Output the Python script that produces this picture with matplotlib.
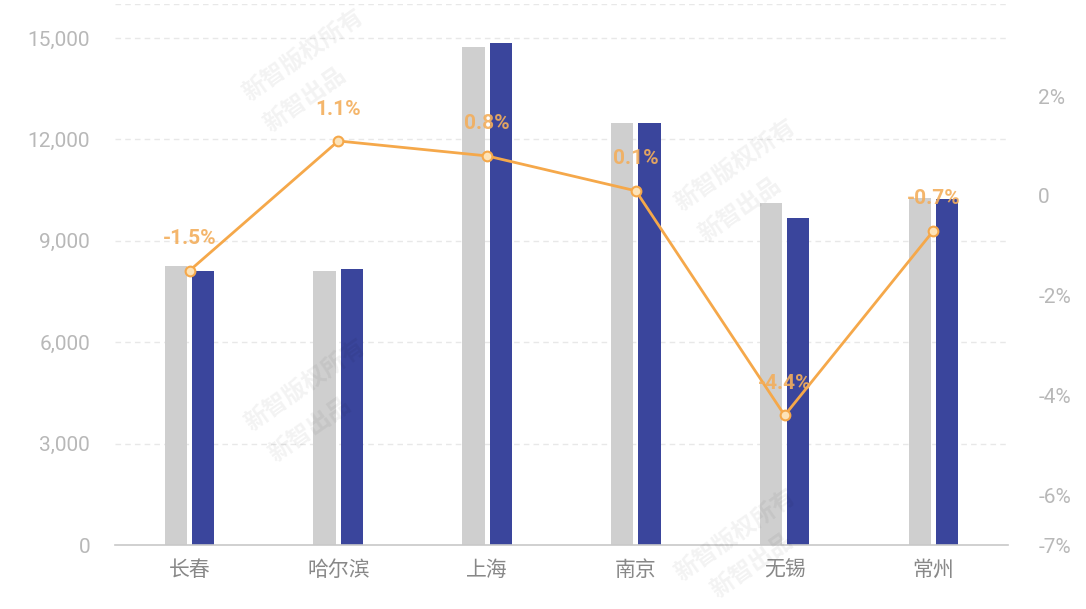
import matplotlib
matplotlib.use("Agg")
import matplotlib.pyplot as plt
import numpy as np

plt.rcParams['font.family'] = ['Roboto', 'Noto Sans CJK SC', 'DejaVu Sans']

cities = ['长春', '哈尔滨', '上海', '南京', '无锡', '常州']
prev_vals = [8250, 8100, 14730, 12500, 10120, 10270]
curr_vals = [8120, 8180, 14850, 12500, 9670, 10240]
growth = [-1.5, 1.1, 0.8, 0.1, -4.4, -0.7]
growth_labels = ['-1.5%', '1.1%', '0.8%', '0.1%', '-4.4%', '-0.7%']

left_ticks = [0, 3000, 6000, 9000, 12000, 15000]
right_ticks = [-7, -6, -4, -2, 0, 2]
right_labels = ['-7%', '-6%', '-4%', '-2%', '0', '2%']

grey = '#cfcfcf'
navy = '#3a459c'
orange = '#f5a84a'
tick_col = '#b8b8b8'

fig = plt.figure(figsize=(10.86, 6.09), dpi=100)
ax = fig.add_axes([0.106, 0.105, 0.822, 0.888])
x = np.arange(len(cities))
w = 0.15
ax.bar(x - 0.092, prev_vals, w, color=grey, zorder=2)
ax.bar(x + 0.092, curr_vals, w, color=navy, zorder=2)

ax.set_xlim(-0.5, 5.5)
ax.set_ylim(0, 16000)
ax.set_yticks(left_ticks)
ax.set_yticklabels(['{:,}'.format(v) for v in left_ticks])
ax.set_xticks(x)
ax.set_xticklabels(cities)
ax.tick_params(axis='y', length=0, pad=18, labelsize=15, labelcolor=tick_col)
ax.tick_params(axis='x', length=0, pad=10, labelsize=15, labelcolor='#888888')
for t in ax.get_xticklabels():
    t.set_family(['Noto Sans CJK SC', 'DejaVu Sans'])
for g in left_ticks[1:] + [16000]:
    ax.axhline(g, color='#e8e8e8', lw=1, ls=(0, (4, 3)), zorder=0)
for s in ['top', 'right', 'left']:
    ax.spines[s].set_visible(False)
ax.spines['bottom'].set_color('#c8c8c8')
ax.spines['bottom'].set_linewidth(1.2)

ax2 = ax.twinx()
ax2.set_ylim(-7, 3.84)
ax2.plot(x, growth, color=orange, lw=2, marker='o', ms=7,
         mfc='#fde3b8', mec=orange, mew=1.5, zorder=5)
for xi, g, lab in zip(x, growth, growth_labels):
    ax2.text(xi, g + 0.45, lab, ha='center', va='bottom', fontsize=15,
             color='#f3ae5c', fontweight='bold', alpha=0.9, zorder=6)
ax2.set_yticks(right_ticks)
ax2.set_yticklabels(right_labels)
ax2.tick_params(axis='y', length=0, pad=22, labelsize=15, labelcolor=tick_col)
for s in ['top', 'right', 'left', 'bottom']:
    ax2.spines[s].set_visible(False)

# faint watermarks (pixel positions from the top-left)
marks = [('新智版权所有', 303, 55), ('新智出品', 305, 100),
         ('新智版权所有', 305, 385), ('新智出品', 310, 430),
         ('新智版权所有', 735, 165), ('新智出品', 740, 210),
         ('新智版权所有', 735, 535), ('新智出品', 752, 566)]
for txt, px, py in marks:
    fig.text(px / 1086, 1 - py / 609, txt, rotation=35, fontsize=17,
             color='#000000', alpha=0.05, family=['Noto Sans CJK SC'],
             fontweight='bold', ha='center', va='center')

fig.savefig('out.png', dpi=100, facecolor='white')
